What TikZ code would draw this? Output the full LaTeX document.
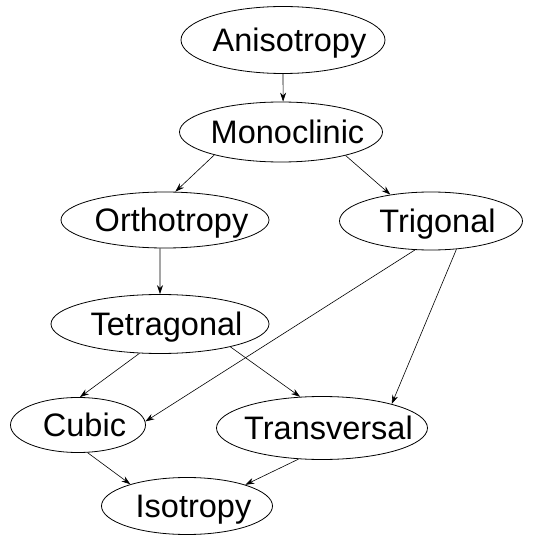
\documentclass[tikz,border=0pt]{standalone}
\usepackage{fontspec}
\setmainfont{Liberation Sans}
\usepackage{tikz}
\usetikzlibrary{arrows.meta,shapes.geometric}
\tikzstyle{state} = [ellipse,draw,line width=0.8pt,inner sep=0pt,text height=23pt,text depth=0pt,font=\fontsize{32.5}{36}\selectfont]
\tikzstyle{arrow} = [line width=0.6pt,-{Stealth[length=9pt,width=6pt]}]
\newcommand{\lbl}[1]{\makebox[0pt]{\hspace{13pt}#1}}

\begin{document}
\begin{tikzpicture}[x=1pt,y=-1pt]
    \useasboundingbox (0,0) rectangle (550,535);

    % Classes
    \foreach \n/\x/\y/\w/\h/\t in {aniso/283/40/204/67/Anisotropy, mono/281/132/203/60/Monoclinic,
        ortho/165/220/208/56/Orthotropy, trig/431/221/183/58/Trigonal,
        tetra/160/324/218/59/Tetragonal, cubic/78/425/135/55/Cubic,
        trans/322/428/211/63/Transversal, iso/187/506/171/57/Isotropy} {
        \node[state, minimum width=\w pt, minimum height=\h pt] (\n) at (\x,\y) {\lbl{\t}};
    }

    % Links
    \foreach \a/\b in {aniso.south/mono.86, mono.199/ortho.70, mono.340/trig.147,
        ortho.260/tetra.north, trig.241/cubic.3, trig.312/trans.19,
        tetra.235/cubic.86, tetra.342/trans.125, cubic.289/iso.159, trans.233/iso.20} {
        \draw[arrow] (\a) -- (\b);
    }
\end{tikzpicture}
\end{document}
